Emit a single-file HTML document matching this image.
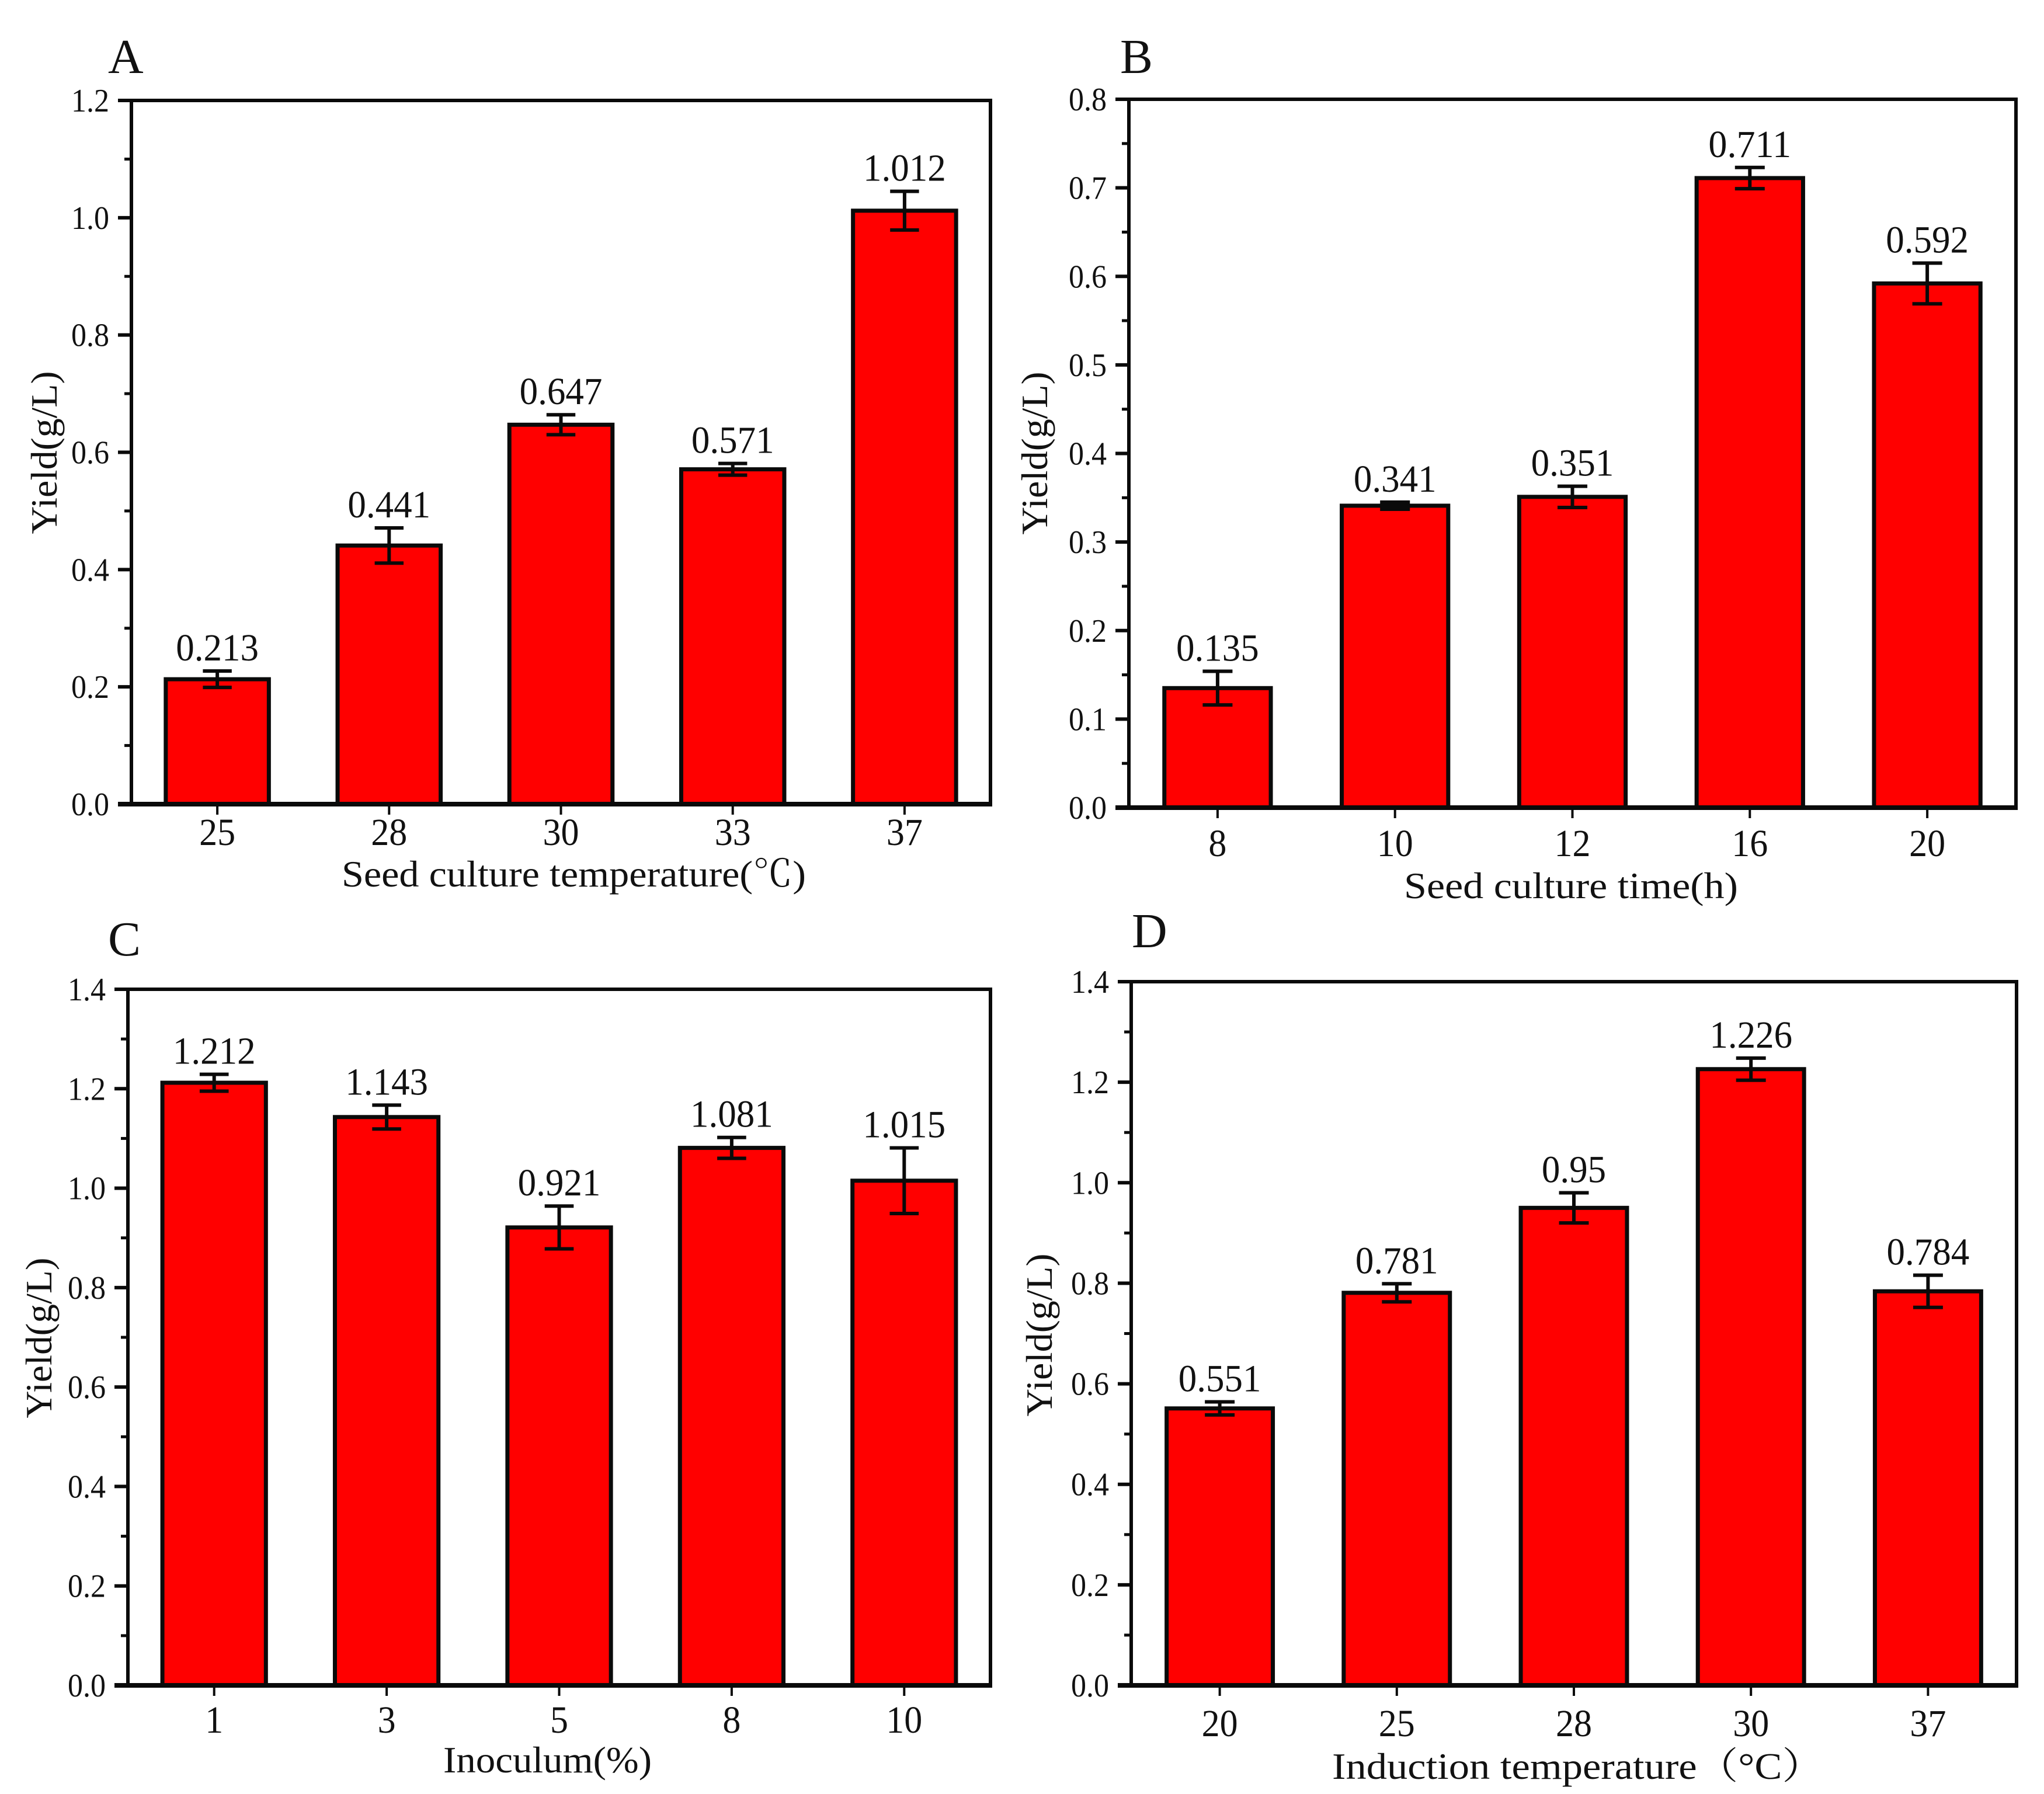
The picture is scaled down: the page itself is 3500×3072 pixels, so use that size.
<!DOCTYPE html>
<html>
<head>
<meta charset="utf-8">
<style>
html,body{margin:0;padding:0;background:#fff;}
svg{display:block;}
text{font-family:"Liberation Serif","Noto Serif CJK SC",serif;fill:#111;}
</style>
</head>
<body>
<svg id="figure" xmlns="http://www.w3.org/2000/svg" width="3500" height="3072" viewBox="0 0 3500 3072">
  <rect width="3500" height="3072" fill="#fff"/>
  <g id="panel-a">
    <text x="185" y="125" font-size="84">A</text>
    <text x="585" y="1518" font-size="64" textLength="795" lengthAdjust="spacingAndGlyphs">Seed culture temperature(℃)</text>
    <text transform="translate(97,775) rotate(-90)" text-anchor="middle" font-size="64" textLength="279" lengthAdjust="spacingAndGlyphs">Yield(g/L)</text>
  </g>
  <g id="panel-b">
    <text x="1918" y="125" font-size="84">B</text>
    <text x="2404" y="1538" font-size="64" textLength="572" lengthAdjust="spacingAndGlyphs">Seed culture time(h)</text>
    <text transform="translate(1793,776) rotate(-90)" text-anchor="middle" font-size="64" textLength="279" lengthAdjust="spacingAndGlyphs">Yield(g/L)</text>
  </g>
  <g id="panel-c">
    <text x="185" y="1636" font-size="84">C</text>
    <text x="759" y="3035" font-size="64" textLength="357" lengthAdjust="spacingAndGlyphs">Inoculum(%)</text>
    <text transform="translate(88,2291) rotate(-90)" text-anchor="middle" font-size="64" textLength="275" lengthAdjust="spacingAndGlyphs">Yield(g/L)</text>
  </g>
  <g id="panel-d">
    <text x="1938" y="1622" font-size="84">D</text>
    <text x="2281" y="3046" font-size="64" textLength="841" lengthAdjust="spacingAndGlyphs">Induction temperature（°C）</text>
    <text transform="translate(1801,2286) rotate(-90)" text-anchor="middle" font-size="64" textLength="279" lengthAdjust="spacingAndGlyphs">Yield(g/L)</text>
  </g>
</svg>
<script>
// Panel A data
const categoriesA = ['25', '28', '30', '33', '37'];
const valuesA = [0.213, 0.441, 0.647, 0.571, 1.012];
const errorsA = [0.014, 0.030, 0.017, 0.010, 0.033];
const yTicksA = ['0.0', '0.2', '0.4', '0.6', '0.8', '1.0', '1.2'];

// Panel B data
const categoriesB = ['8', '10', '12', '16', '20'];
const valuesB = [0.135, 0.341, 0.351, 0.711, 0.592];
const errorsB = [0.019, 0.004, 0.012, 0.012, 0.023];
const yTicksB = ['0.0', '0.1', '0.2', '0.3', '0.4', '0.5', '0.6', '0.7', '0.8'];

// Panel C data
const categoriesC = ['1', '3', '5', '8', '10'];
const valuesC = [1.212, 1.143, 0.921, 1.081, 1.015];
const errorsC = [0.017, 0.024, 0.043, 0.021, 0.066];
const yTicksC = ['0.0', '0.2', '0.4', '0.6', '0.8', '1.0', '1.2', '1.4'];

// Panel D data
const categoriesD = ['20', '25', '28', '30', '37'];
const valuesD = [0.551, 0.781, 0.950, 1.226, 0.784];
const errorsD = [0.013, 0.018, 0.030, 0.022, 0.032];
const yTicksD = ['0.0', '0.2', '0.4', '0.6', '0.8', '1.0', '1.2', '1.4'];

const SVG_NS = 'http://www.w3.org/2000/svg';

function make(parent, tag, props) {
  const el = document.createElementNS(SVG_NS, tag);
  for (const k in props) el.setAttribute(k, props[k]);
  parent.appendChild(el);
  return el;
}

// width of a numeric string in em (digits 0.5, point 0.25), used to condense labels
function emWidth(s) {
  let w = 0;
  for (const c of s) w += c === '.' ? 0.25 : 0.5;
  return w;
}

function drawPanel(id, frame, categories, values, errors, yTicks) {
  const root = document.getElementById(id);
  const yMin = parseFloat(yTicks[0]);
  const yMax = parseFloat(yTicks[yTicks.length - 1]);
  const yScale = v => frame.bottom - (v - yMin) / (yMax - yMin) * (frame.bottom - frame.top);
  const step = (frame.right - frame.left) / categories.length;
  const xScale = i => frame.left + step * (i + 0.5);
  const barWidth = step * 0.6;

  // bars
  values.forEach((v, i) => {
    const bar = make(root, 'rect', {
      x: xScale(i) - barWidth / 2, y: yScale(v), width: barWidth, height: frame.bottom - yScale(v),
      fill: '#ff0000', stroke: '#0a0a0a', 'stroke-width': 7
    });
    
    
  });

  // frame
  const box = make(root, 'rect', {
    x: frame.left, y: frame.top, width: frame.right - frame.left, height: frame.bottom - frame.top,
    fill: 'none', stroke: '#0a0a0a', 'stroke-width': 6
  });
  
  

  const xAxis = make(root, 'line', {
    x1: frame.left - 23, x2: frame.right + 3, y1: frame.bottom, y2: frame.bottom,
    stroke: '#0a0a0a', 'stroke-width': 8
  });
  
  

  // y ticks, major and minor
  yTicks.forEach((label, i) => {
    const v = parseFloat(label);
    const y = yScale(v);
    const tick = make(root, 'line', {
      x1: frame.left - 23, x2: frame.left, y1: y, y2: y, stroke: '#0a0a0a', 'stroke-width': 6
    });
    
    
    const text = make(root, 'text', {
      x: frame.left - 38, y: y + 19, 'text-anchor': 'end', 'font-size': 56,
      textLength: emWidth(label) * 52, lengthAdjust: 'spacingAndGlyphs'
    });
    text.textContent = label;
    
    
    if (i < yTicks.length - 1) {
      const yMid = (y + yScale(parseFloat(yTicks[i + 1]))) / 2;
      const minor = make(root, 'line', {
        x1: frame.left - 12, x2: frame.left, y1: yMid, y2: yMid, stroke: '#0a0a0a', 'stroke-width': 5
      });
      
      
    }
  });

  // x ticks and labels
  categories.forEach((label, i) => {
    const tick = make(root, 'line', {
      x1: xScale(i), x2: xScale(i), y1: frame.bottom, y2: frame.bottom + 18, stroke: '#0a0a0a', 'stroke-width': 4
    });
    
    
    const text = make(root, 'text', {
      x: xScale(i), y: frame.bottom + frame.xLabelGap, 'text-anchor': 'middle', 'font-size': 66,
      textLength: emWidth(label) * 62, lengthAdjust: 'spacingAndGlyphs'
    });
    text.textContent = label;
    
    
  });

  // error bars and value labels
  values.forEach((v, i) => {
    const cx = xScale(i);
    const hi = yScale(v + errors[i]);
    const lo = yScale(v - errors[i]);
    const cap = barWidth * 0.14;
    const stem = make(root, 'line', { x1: cx, x2: cx, y1: hi, y2: lo, stroke: '#0a0a0a', 'stroke-width': 6 });
    
    
    const capTop = make(root, 'line', { x1: cx - cap, x2: cx + cap, y1: hi, y2: hi, stroke: '#0a0a0a', 'stroke-width': 6 });
    
    
    const capBottom = make(root, 'line', { x1: cx - cap, x2: cx + cap, y1: lo, y2: lo, stroke: '#0a0a0a', 'stroke-width': 6 });
    
    
    const labelText = String(v);
    const label = make(root, 'text', {
      x: cx, y: hi - 18, 'text-anchor': 'middle', 'font-size': 66,
      textLength: emWidth(labelText) * 63, lengthAdjust: 'spacingAndGlyphs'
    });
    label.textContent = labelText;
    
    
  });
}

drawPanel('panel-a', { left: 225, right: 1696, top: 172, bottom: 1377, xLabelGap: 70 }, categoriesA, valuesA, errorsA, yTicksA);
drawPanel('panel-b', { left: 1933, right: 3452, top: 170, bottom: 1383, xLabelGap: 83 }, categoriesB, valuesB, errorsB, yTicksB);
drawPanel('panel-c', { left: 219, right: 1696, top: 1694, bottom: 2886, xLabelGap: 81 }, categoriesC, valuesC, errorsC, yTicksC);
drawPanel('panel-d', { left: 1937, right: 3453, top: 1681, bottom: 2886, xLabelGap: 87 }, categoriesD, valuesD, errorsD, yTicksD);
</script>
</body>
</html>
